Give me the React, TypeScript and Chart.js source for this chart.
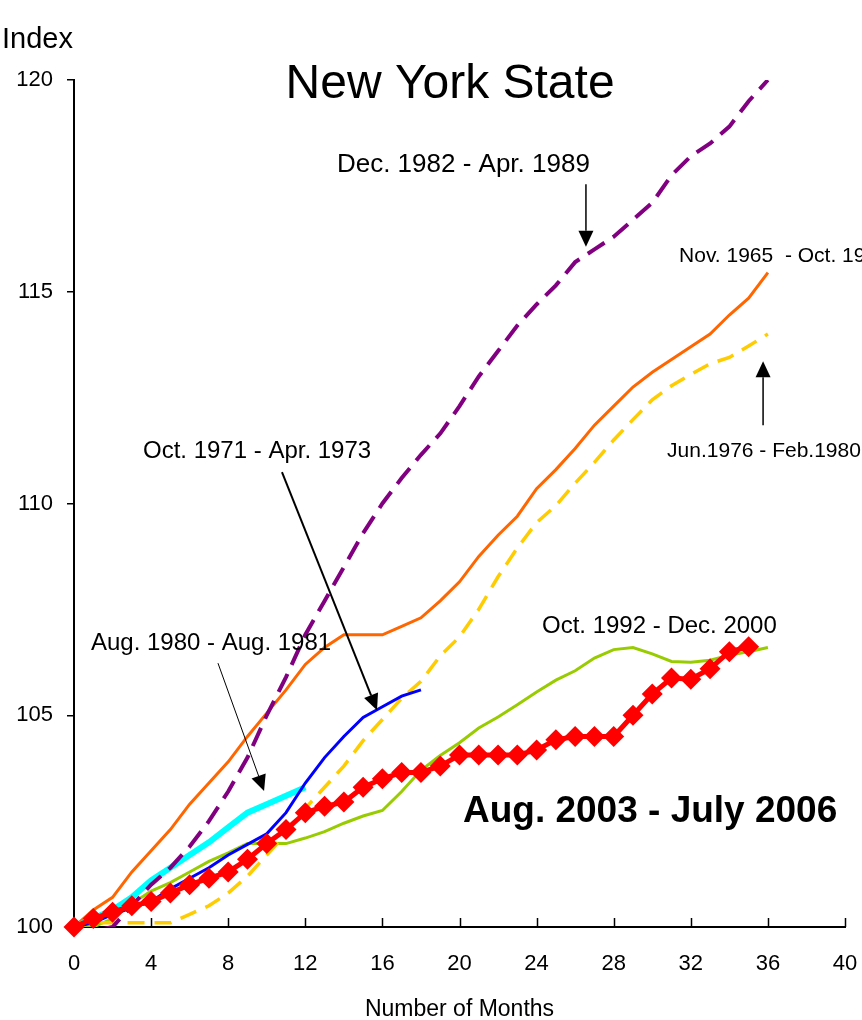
import React, { useEffect, useRef } from "react";
import { Chart, registerables } from "chart.js";

Chart.register(...registerables);

const FONT = '"Liberation Sans", Arial, Helvetica, sans-serif';

// Categories: months since trough
const months = [0, 1, 2, 3, 4, 5, 6, 7, 8, 9, 10, 11, 12, 13, 14, 15, 16, 17, 18, 19, 20, 21, 22, 23, 24, 25, 26, 27, 28, 29, 30, 31, 32, 33, 34, 35, 36];
const xTickValues = [0, 4, 8, 12, 16, 20, 24, 28, 32, 36, 40];
const yTickValues = [100, 105, 110, 115, 120];

// Series values (index, start = 100)
const dec1982 = [100.0, 99.9, 100.0, 100.5, 101.0, 101.4, 101.9, 102.5, 103.2, 104.0, 105.0, 105.9, 106.9, 107.7, 108.5, 109.3, 110.0, 110.6, 111.15, 111.65, 112.3, 113.0, 113.6, 114.2, 114.7, 115.15, 115.7, 116.0, 116.3, 116.7, 117.1, 117.75, 118.2, 118.5, 118.9, 119.5, 120.0];
const nov1965 = [100.0, 100.4, 100.7, 101.3, 101.8, 102.3, 102.9, 103.4, 103.9, 104.5, 105.05, 105.6, 106.2, 106.6, 106.9, 106.9, 106.9, 107.1, 107.3, 107.7, 108.15, 108.75, 109.25, 109.7, 110.35, 110.8, 111.3, 111.85, 112.3, 112.75, 113.1, 113.4, 113.7, 114.0, 114.45, 114.85, 115.45];
const jun1976 = [100.0, 100.1, 100.1, 100.1, 100.1, 100.1, 100.3, 100.5, 100.8, 101.2, 101.7, 102.2, 102.8, 103.3, 103.8, 104.4, 104.9, 105.4, 105.8, 106.4, 106.85, 107.5, 108.27, 108.95, 109.55, 109.95, 110.48, 110.97, 111.5, 111.98, 112.45, 112.78, 113.05, 113.3, 113.45, 113.72, 114.0];
const oct1971 = [100.0, 100.1, 100.3, 100.45, 100.6, 100.9, 101.15, 101.4, 101.7, 101.95, 102.2, 102.7, 103.4, 104.0, 104.5, 104.95, 105.2, 105.45, 105.6];
const aug1980 = [100.0, 100.2, 100.4, 100.7, 101.1, 101.4, 101.7, 102.0, 102.35, 102.7, 102.9, 103.1, 103.3];
const oct1992 = [100.0, 100.0, 100.2, 100.55, 100.85, 101.05, 101.3, 101.55, 101.75, 101.97, 101.98, 101.97, 102.1, 102.25, 102.45, 102.62, 102.75, 103.2, 103.7, 104.05, 104.35, 104.7, 104.96, 105.25, 105.55, 105.83, 106.05, 106.35, 106.55, 106.6, 106.45, 106.27, 106.25, 106.3, 106.42, 106.5, 106.6];
const aug2003 = [100.0, 100.2, 100.35, 100.5, 100.6, 100.8, 101.0, 101.15, 101.3, 101.6, 101.97, 102.3, 102.7, 102.85, 102.95, 103.3, 103.5, 103.65, 103.65, 103.8, 104.06, 104.06, 104.06, 104.06, 104.18, 104.42, 104.5, 104.5, 104.5, 105.0, 105.5, 105.88, 105.85, 106.1, 106.5, 106.62];

// Annotation texts (positioned in data units)
const notes = [
  { text: "New York State", x: 19.51, y: 119.57, size: 48, bold: false, align: "center" },
  { text: "Dec. 1982 - Apr. 1989", x: 13.64, y: 117.83, size: 26, bold: false, align: "left" },
  { text: "Nov. 1965  - Oct. 1969", x: 31.39, y: 115.7, size: 21, bold: false, align: "left" },
  { text: "Jun.1976 - Feb.1980", x: 30.77, y: 111.1, size: 21, bold: false, align: "left" },
  { text: "Oct. 1971 - Apr. 1973", x: 3.58, y: 111.07, size: 24, bold: false, align: "left" },
  { text: "Aug. 1980 - Aug. 1981", x: 0.88, y: 106.54, size: 24, bold: false, align: "left" },
  { text: "Oct. 1992 - Dec. 2000", x: 24.28, y: 106.94, size: 24, bold: false, align: "left" },
  { text: "Aug. 2003 - July 2006", x: 20.18, y: 102.48, size: 37, bold: true, align: "left" },
];

const arrows = [
  { x1: 26.56, y1: 117.54, x2: 26.56, y2: 116.06, w: 1.5 },
  { x1: 35.75, y1: 111.85, x2: 35.75, y2: 113.36, w: 1.5 },
  { x1: 10.79, y1: 110.74, x2: 15.72, y2: 105.12, w: 2 },
  { x1: 7.47, y1: 106.23, x2: 9.86, y2: 103.21, w: 1 },
];

const pts = (vals: number[]) => vals.map((v, i) => ({ x: months[i], y: v }));

const overlayPlugin = {
  id: "overlay",
  afterDraw(chart: any) {
    const { ctx, chartArea, scales } = chart;
    const xs = scales.x;
    const ys = scales.y;
    ctx.save();
    // inward x-axis tick marks
    ctx.strokeStyle = "#000";
    ctx.lineWidth = 1.5;
    xs.ticks.forEach((t: any) => {
      if (t.value === 0) return;
      const px = Math.round(xs.getPixelForValue(t.value)) + 0.5;
      ctx.beginPath();
      ctx.moveTo(px, chartArea.bottom);
      ctx.lineTo(px, chartArea.bottom - 9);
      ctx.stroke();
    });

    // arrows
    arrows.forEach((a) => {
      const x1 = xs.getPixelForValue(a.x1);
      const y1 = ys.getPixelForValue(a.y1);
      const x2 = xs.getPixelForValue(a.x2);
      const y2 = ys.getPixelForValue(a.y2);
      const ang = Math.atan2(y2 - y1, x2 - x1);
      const hl = 16;
      const hw = 7.5;
      const bx = x2 - hl * Math.cos(ang);
      const by = y2 - hl * Math.sin(ang);
      ctx.strokeStyle = "#000";
      ctx.lineWidth = a.w;
      ctx.beginPath();
      ctx.moveTo(x1, y1);
      ctx.lineTo(bx, by);
      ctx.stroke();
      ctx.fillStyle = "#000";
      ctx.beginPath();
      ctx.moveTo(x2, y2);
      ctx.lineTo(bx + hw * Math.sin(ang), by - hw * Math.cos(ang));
      ctx.lineTo(bx - hw * Math.sin(ang), by + hw * Math.cos(ang));
      ctx.closePath();
      ctx.fill();
    });

    // texts
    ctx.fillStyle = "#000";
    ctx.textBaseline = "alphabetic";
    notes.forEach((n) => {
      ctx.font = `${n.bold ? "bold " : ""}${n.size}px ${FONT}`;
      ctx.textAlign = n.align as CanvasTextAlign;
      ctx.fillText(n.text, xs.getPixelForValue(n.x), ys.getPixelForValue(n.y));
    });

    // axis titles
    ctx.font = `29px ${FONT}`;
    ctx.textAlign = "right";
    ctx.fillText("Index", chartArea.left - 1, chartArea.top - 32);
    ctx.font = `23px ${FONT}`;
    ctx.textAlign = "center";
    ctx.fillText("Number of Months", (chartArea.left + chartArea.right) / 2, chartArea.bottom + 89);
    ctx.restore();
  },
};

export default function App() {
  const ref = useRef<HTMLCanvasElement | null>(null);

  useEffect(() => {
    if (!ref.current) return;
    const chart = new Chart(ref.current, {
      type: "line",
      data: {
        datasets: [
          {
            label: "Aug. 2003 - July 2006",
            data: pts(aug2003),
            borderColor: "#FF0000",
            backgroundColor: "#FF0000",
            borderWidth: 5,
            pointStyle: "rectRot",
            pointRadius: 10.5,
            pointBackgroundColor: "#FF0000",
            pointBorderColor: "#FF0000",
            pointBorderWidth: 0,
            clip: false,
            order: 0,
          },
          {
            label: "Dec. 1982 - Apr. 1989",
            data: pts(dec1982),
            borderColor: "#800080",
            borderWidth: 4,
            borderDash: [20, 10],
            pointRadius: 0,
            order: 1,
          },
          {
            label: "Aug. 1980 - Aug. 1981",
            data: pts(aug1980),
            borderColor: "#00FFFF",
            borderWidth: 6,
            pointRadius: 0,
            order: 3,
          },
          {
            label: "Oct. 1971 - Apr. 1973",
            data: pts(oct1971),
            borderColor: "#0000FF",
            borderWidth: 3,
            pointRadius: 0,
            order: 2,
          },
          {
            label: "Nov. 1965 - Oct. 1969",
            data: pts(nov1965),
            borderColor: "#FF6600",
            borderWidth: 3,
            pointRadius: 0,
            order: 4,
          },
          {
            label: "Jun.1976 - Feb.1980",
            data: pts(jun1976),
            borderColor: "#FFCC00",
            borderWidth: 3.5,
            borderDash: [17, 10],
            pointRadius: 0,
            order: 5,
          },
          {
            label: "Oct. 1992 - Dec. 2000",
            data: pts(oct1992),
            borderColor: "#99CC00",
            borderWidth: 3,
            pointRadius: 0,
            order: 6,
          },
        ],
      },
      options: {
        responsive: false,
        animation: false,
        devicePixelRatio: 1,
        layout: { padding: { left: 0, right: 17, top: 80, bottom: 0 } },
        plugins: {
          legend: { display: false },
          tooltip: { enabled: false },
          title: { display: false },
        },
        elements: { line: { tension: 0 } },
        scales: {
          x: {
            type: "linear",
            min: 0,
            max: 40,
            afterBuildTicks: (s: any) => {
              s.ticks = xTickValues.map((v) => ({ value: v }));
            },
            afterFit: (s: any) => {
              s.height = 93;
            },
            grid: { display: false, drawTicks: true, tickLength: 22 },
            border: { display: true, color: "#000", width: 2 },
            ticks: {
              padding: 2,
              color: "#000",
              font: { family: FONT, size: 22 },
              maxRotation: 0,
              autoSkip: false,
              callback: (v: any) => String(v),
            },
          },
          y: {
            type: "linear",
            min: 100,
            max: 120,
            afterBuildTicks: (s: any) => {
              s.ticks = yTickValues.map((v) => ({ value: v }));
            },
            afterFit: (s: any) => {
              s.width = 74;
            },
            grid: {
              display: true,
              drawOnChartArea: false,
              drawTicks: true,
              tickLength: 7,
              color: "#000",
              lineWidth: 1.5,
            },
            border: { display: true, color: "#000", width: 2 },
            ticks: {
              padding: 14,
              color: "#000",
              font: { family: FONT, size: 22 },
              callback: (v: any) => String(v),
            },
          },
        },
      } as any,
      plugins: [overlayPlugin],
    });
    return () => chart.destroy();
  }, []);

  return (
    <div style={{ position: "absolute", left: 0, top: 0, width: 862, height: 1020, background: "#fff" }}>
      <canvas ref={ref} width={862} height={1020} style={{ width: 862, height: 1020, display: "block" }} />
    </div>
  );
}
